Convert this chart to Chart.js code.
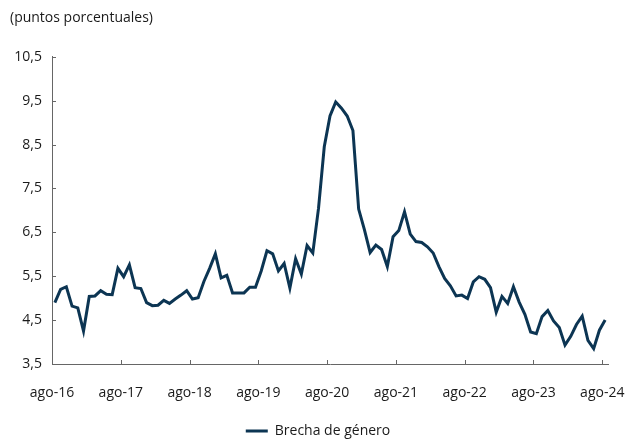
<!DOCTYPE html>
<html>
<head>
<meta charset="utf-8">
<script src="https://cdn.jsdelivr.net/npm/chart.js@4"></script>
<style>
  html, body { margin: 0; padding: 0; background: #fff; }
  #wrap { width: 626px; height: 439px; }
</style>
</head>
<body>
<div id="wrap"><canvas id="chart"></canvas></div>
<script>
// tick labels on the x axis, one every 12 months
var tickLabels = ["ago-16", "ago-17", "ago-18", "ago-19", "ago-20", "ago-21", "ago-22", "ago-23", "ago-24"];

// monthly gap, ago-16 .. ago-24
var brecha = [
  4.90, 5.20, 5.26, 4.82, 4.78, 4.25, 5.04, 5.05, 5.17, 5.09, 5.08, 5.68,
  5.49, 5.76, 5.24, 5.22, 4.90, 4.83, 4.84, 4.95, 4.88, 4.98, 5.07, 5.17,
  4.98, 5.01, 5.38, 5.68, 6.01, 5.46, 5.52, 5.12, 5.12, 5.12, 5.25, 5.25,
  5.62, 6.08, 6.01, 5.62, 5.79, 5.23, 5.90, 5.55, 6.20, 6.03, 7.05, 8.45,
  9.15, 9.47, 9.33, 9.15, 8.82, 7.03, 6.56, 6.04, 6.21, 6.11, 5.72, 6.40,
  6.54, 6.97, 6.46, 6.29, 6.27, 6.17, 6.03, 5.72, 5.45, 5.28, 5.05, 5.07,
  4.99, 5.37, 5.49, 5.43, 5.24, 4.68, 5.04, 4.88, 5.26, 4.91, 4.63, 4.23,
  4.19, 4.58, 4.72, 4.48, 4.33, 3.93, 4.13, 4.40, 4.59, 4.04, 3.85, 4.27,
  4.50
];

var lineColor = "#0c3553";
var axisColor = "#666666";
var textColor = "#1a1a1a";
var font = "'Open Sans', sans-serif";

var points = brecha.map(function (v, i) {
  return { x: i + 0.5, y: v };
});

// small tick marks drawn inside the plot, like the original
var innerTicks = {
  id: "innerTicks",
  afterDraw: function (chart) {
    var ctx = chart.ctx;
    var xs = chart.scales.x;
    var ys = chart.scales.y;
    ctx.save();
    ctx.strokeStyle = axisColor;
    ctx.lineWidth = 1;
    ctx.beginPath();
    xs.ticks.forEach(function (t) {
      var px = Math.round(xs.getPixelForValue(t.value)) + 0.5;
      ctx.moveTo(px, ys.bottom);
      ctx.lineTo(px, ys.bottom - 4);
    });
    ys.ticks.forEach(function (t) {
      var py = Math.round(ys.getPixelForValue(t.value)) + 0.5;
      ctx.moveTo(xs.left, py);
      ctx.lineTo(xs.left + 4, py);
    });
    ctx.stroke();
    ctx.restore();
  }
};

new Chart(document.getElementById("chart"), {
  type: "line",
  data: {
    datasets: [{
      label: "Brecha de género",
      data: points,
      borderColor: lineColor,
      backgroundColor: lineColor,
      borderWidth: 3,
      pointRadius: 0,
      tension: 0
    }]
  },
  options: {
    responsive: true,
    maintainAspectRatio: false,
    animation: false,
    layout: { padding: { left: 10, right: 0, top: 0, bottom: -9 } },
    plugins: {
      title: {
        display: true,
        text: "(puntos porcentuales)",
        align: "start",
        color: textColor,
        font: { family: font, size: 14, weight: "normal" },
        padding: { top: 10, bottom: 30 }
      },
      legend: {
        position: "bottom",
        labels: {
          color: textColor,
          font: { family: font, size: 14 },
          boxWidth: 22,
          boxHeight: 0,
          padding: 0
        }
      },
      tooltip: { enabled: false }
    },
    scales: {
      x: {
        type: "linear",
        min: 0,
        max: 97,
        grid: { display: false, drawTicks: false },
        border: { display: true, color: axisColor, width: 1 },
        ticks: {
          autoSkip: false,
          maxRotation: 0,
          padding: 21,
          color: textColor,
          font: { family: font, size: 14 },
          callback: function (v) { return tickLabels[Math.round(v / 12)]; }
        },
        afterBuildTicks: function (s) {
          s.ticks = tickLabels.map(function (l, k) { return { value: k * 12 }; });
        },
        afterFit: function (s) {
          s.height = 60;
          s.paddingRight = 18;
        }
      },
      y: {
        min: 3.5,
        max: 10.5,
        grid: { display: false, drawTicks: false },
        border: { display: true, color: axisColor, width: 1 },
        ticks: {
          stepSize: 1,
          padding: 10,
          color: textColor,
          font: { family: font, size: 14 },
          callback: function (v) { return v.toFixed(1).replace(".", ","); }
        },
        afterFit: function (s) { s.width = 42; }
      }
    }
  },
  plugins: [innerTicks]
});
</script>
</body>
</html>
